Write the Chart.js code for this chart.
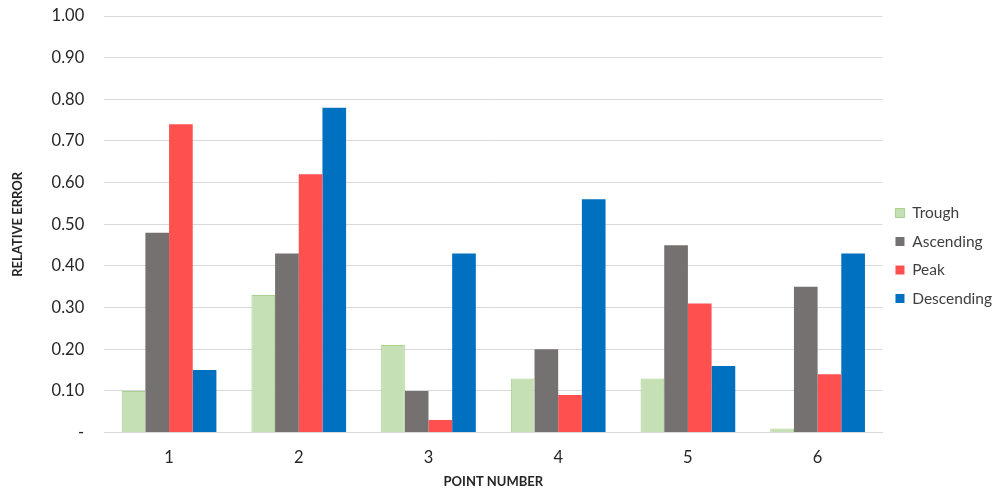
<!DOCTYPE html>
<html>
<head>
<meta charset="utf-8">
<script src="https://cdn.jsdelivr.net/npm/chart.js@4.4.0/dist/chart.umd.min.js"></script>
<style>
  html, body { margin: 0; padding: 0; background: #fff; }
  #wrap { width: 998px; height: 491px; }
</style>
</head>
<body>
<div id="wrap"><canvas id="chart" width="998" height="491"></canvas></div>
<script>
const categories = ["1", "2", "3", "4", "5", "6"];
const trough = [0.10, 0.33, 0.21, 0.13, 0.13, 0.01];
const ascending = [0.48, 0.43, 0.10, 0.20, 0.45, 0.35];
const peak = [0.74, 0.62, 0.03, 0.09, 0.31, 0.14];
const descending = [0.15, 0.78, 0.43, 0.56, 0.16, 0.43];
const yTicks = [0, 0.1, 0.2, 0.3, 0.4, 0.5, 0.6, 0.7, 0.8, 0.9, 1.0];

const FONT = "Lato, 'Open Sans', sans-serif";

const ctx = document.getElementById("chart").getContext("2d");
new Chart(ctx, {
  type: "bar",
  data: {
    labels: categories,
    datasets: [
      { label: "Trough", data: trough, backgroundColor: "#c5e0b4", borderColor: "#a9d18e", borderWidth: 1 },
      { label: "Ascending", data: ascending, backgroundColor: "#767171" },
      { label: "Peak", data: peak, backgroundColor: "#ff5050" },
      { label: "Descending", data: descending, backgroundColor: "#0070c0" }
    ]
  },
  options: {
    responsive: false,
    animation: false,
    layout: { padding: { top: 16, right: -4, left: 6, bottom: 1 } },
    datasets: { bar: { categoryPercentage: 0.73, barPercentage: 1.0 } },
    plugins: {
      legend: {
        position: "right",
        // empty title only nudges the legend rows down a little
        title: { display: true, text: " ", font: { size: 3 }, padding: 1 },
        labels: {
          boxWidth: 9, boxHeight: 9, padding: 13,
          color: "#404040",
          font: { family: FONT, size: 15.5 }
        }
      },
      tooltip: { enabled: false }
    },
    scales: {
      x: {
        grid: { display: false },
        border: { color: "#d9d9d9" },
        ticks: { color: "#262626", font: { family: FONT, size: 16.5 }, padding: 7 },
        title: { display: true, text: "POINT NUMBER", color: "#262626", font: { family: FONT, size: 13, weight: "bold" }, padding: { top: 0, bottom: 0 } }
      },
      y: {
        min: 0, max: 1,
        afterBuildTicks: axis => { axis.ticks = yTicks.map(v => ({ value: v })); },
        afterFit: axis => { axis.paddingTop = 0; },
        grid: { color: "#d9d9d9", drawTicks: false },
        border: { display: false },
        ticks: {
          color: "#262626", padding: 20,
          font: { family: FONT, size: 16.5 },
          callback: v => v === 0 ? "-" : v.toFixed(2)
        },
        title: { display: true, text: "RELATIVE ERROR", color: "#262626", font: { family: FONT, size: 13, weight: "bold" }, padding: { bottom: 6 } }
      }
    }
  }
});
</script>
</body>
</html>
